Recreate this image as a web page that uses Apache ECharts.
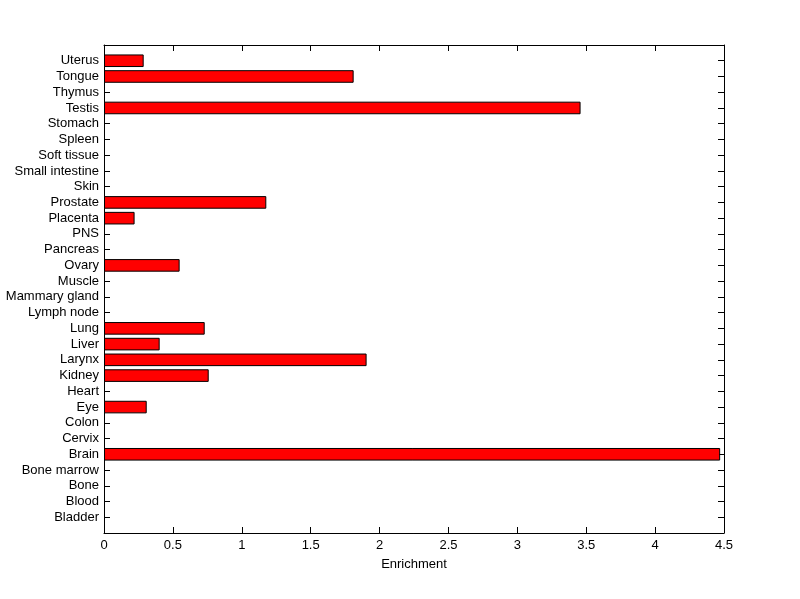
<!DOCTYPE html>
<html>
<head>
<meta charset="utf-8">
<script src="https://cdn.jsdelivr.net/npm/echarts@6/dist/echarts.min.js"></script>
<style>html,body{margin:0;padding:0;background:#fff;}#c{width:800px;height:599px;}</style>
</head>
<body>
<div id="c"></div>
<script>
// Categories listed bottom to top
const tissues = ['Bladder','Blood','Bone','Bone marrow','Brain','Cervix','Colon','Eye','Heart','Kidney','Larynx','Liver','Lung','Lymph node','Mammary gland','Muscle','Ovary','Pancreas','PNS','Placenta','Prostate','Skin','Small intestine','Soft tissue','Spleen','Stomach','Testis','Thymus','Tongue','Uterus'];
const enrichment = [0,0,0,0,4.472,0,0,0.31,0,0.76,1.906,0.404,0.731,0,0,0,0.549,0,0,0.222,1.178,0,0,0,0,0,3.459,0,1.812,0.288];
const xTicks = [0,0.5,1,1.5,2,2.5,3,3.5,4,4.5];

const cats = [''].concat(tissues, ['']);
const vals = ['-'].concat(enrichment.map(v => v === 0 ? '-' : v), ['-']);
const font = {fontFamily: 'Liberation Sans, Arial, sans-serif', fontSize: 13, color: '#000'};
const ls = {color: '#000', width: 1};

const chart = echarts.init(document.getElementById('c'), null, {renderer: 'canvas'});
chart.setOption({
  animation: false,
  grid: {left: 104, right: 76, top: 45, bottom: 66, containLabel: false},
  xAxis: [{
    type: 'value', min: xTicks[0], max: xTicks[xTicks.length-1], interval: 0.5,
    position: 'bottom',
    name: 'Enrichment', nameLocation: 'middle', nameGap: 25,
    nameTextStyle: font,
    axisLine: {show: true, onZero: false, lineStyle: ls},
    axisTick: {show: true, inside: true, length: 6, lineStyle: ls},
    axisLabel: Object.assign({margin: 6}, font),
    splitLine: {show: false}
  }, {
    type: 'value', min: xTicks[0], max: xTicks[xTicks.length-1], interval: 0.5,
    position: 'top',
    axisLine: {show: true, onZero: false, lineStyle: ls},
    axisTick: {show: true, inside: true, length: 6, lineStyle: ls},
    axisLabel: {show: false},
    splitLine: {show: false}
  }],
  yAxis: [{
    type: 'category', data: cats, boundaryGap: false, position: 'left',
    axisLine: {show: true, onZero: false, lineStyle: ls},
    axisTick: {show: false},
    axisLabel: Object.assign({margin: 5, interval: 0}, font),
    splitLine: {show: false}
  }, {
    type: 'value', min: 0, max: cats.length - 1, interval: 1, position: 'left',
    axisLine: {show: false, onZero: false},
    axisTick: {show: true, inside: true, length: 6, lineStyle: ls},
    axisLabel: {show: false},
    splitLine: {show: false}
  }, {
    type: 'value', min: 0, max: cats.length - 1, interval: 1, position: 'right',
    axisLine: {show: true, onZero: false, lineStyle: ls},
    axisTick: {show: true, inside: true, length: 6, lineStyle: ls},
    axisLabel: {show: false},
    splitLine: {show: false}
  }],
  series: [{
    type: 'bar', xAxisIndex: 0, yAxisIndex: 0,
    data: vals, barWidth: '80%',
    itemStyle: {color: '#ff0000', borderColor: '#000', borderWidth: 1}
  }]
});
</script>
</body>
</html>
